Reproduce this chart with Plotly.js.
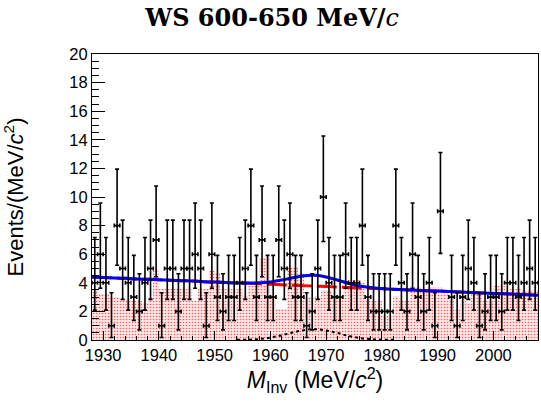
<!DOCTYPE html>
<html>
<head>
<meta charset="utf-8">
<script src="https://cdn.plot.ly/plotly-3.0.1.min.js"></script>
<style>html,body{margin:0;padding:0;background:#fff;}#plot{width:541px;height:409px;}</style>
</head>
<body>
<div id="plot"></div>
<script>
// Bin lower edges (1 MeV/c^2 bins) and observed counts
const binLow = [1928,1929,1930,1931,1932,1933,1934,1935,1936,1937,1938,1939,1940,1941,1942,1943,1944,1945,1946,1947,
  1948,1949,1950,1951,1952,1953,1954,1955,1956,1957,1958,1959,1960,1961,1962,1963,1964,1965,1966,1967,
  1968,1969,1970,1971,1972,1973,1974,1975,1976,1977,1978,1979,1980,1981,1982,1983,1984,1985,1986,1987,
  1988,1989,1990,1991,1992,1993,1994,1995,1996,1997,1998,1999,2000,2001,2002,2003,2004,2005,2006,2007];
const counts = [4,6,4,1,8,5,4,3,2,4,5,7,1,5,5,2,5,5,6,5,
  1,6,3,2,3,3,4,5,8,3,7,3,3,7,5,6,3,3,1,2,
  5,10,4,3,3,6,4,4,8,3,2,2,2,2,8,4,2,6,3,2,
  4,1,9,0,3,1,3,5,4,1,2,3,3,2,4,4,3,4,5,4];
// Poisson (Garwood 68%) error sizes, indexed by count
const poisErrLow  = [0, 0.827, 1.292, 1.633, 1.914, 2.160, 2.380, 2.581, 2.768, 2.943, 3.109];
const poisErrHigh = [1.841, 2.300, 2.638, 2.918, 3.163, 3.382, 3.584, 3.770, 3.950, 4.110, 4.270];
// Reference (pink dotted) histogram heights per bin
const refHist = [3.5,3.2,3.2,3.0,3.0,2.9,2.9,2.7,2.7,2.6,3.0,5.0,3.6,3.6,3.6,3.6,3.6,3.6,2.7,3.6,
  3.6,4.8,4.7,3.6,3.6,3.6,3.6,3.1,3.8,3.8,5.7,5.7,3.1,2.2,2.2,5.1,5.1,4.7,3.0,3.0,
  3.1,3.5,3.5,3.0,3.0,3.6,4.2,4.2,4.0,2.9,2.7,2.7,1.7,1.7,3.1,2.7,2.7,3.7,3.7,3.6,
  3.7,3.7,3.7,3.3,2.9,2.2,3.1,2.6,3.4,3.4,2.7,2.7,3.8,3.8,3.1,3.6,3.6,3.5,3.5,3.5];
// Fit curves
const fitX = [1928,1930,1932,1934,1936,1938,1940,1942,1944,1946,1948,1950,1952,1954,1956,1958,1960,1962,1964,1966,
  1968,1970,1972,1974,1976,1978,1980,1982,1984,1986,1988,1990,1992,1994,1996,1998,2000,2002,2004,2006,2008];
const bkgY = [4.40,4.37,4.34,4.31,4.27,4.24,4.21,4.18,4.15,4.12,4.08,4.05,4.02,3.99,3.96,3.93,3.89,3.86,3.83,3.80,
  3.77,3.74,3.71,3.67,3.64,3.61,3.58,3.55,3.52,3.48,3.45,3.42,3.39,3.36,3.32,3.29,3.26,3.23,3.20,3.17,3.13];
const totalY = [4.40,4.37,4.34,4.31,4.27,4.24,4.21,4.18,4.15,4.12,4.08,4.05,4.02,3.99,3.98,4.00,4.06,4.19,4.35,4.49,
  4.52,4.41,4.20,3.96,3.78,3.67,3.60,3.55,3.52,3.48,3.45,3.42,3.39,3.36,3.32,3.29,3.26,3.23,3.20,3.17,3.13];
const sigX = [1954,1956,1958,1960,1962,1964,1966,1968,1970,1972,1974,1976,1978,1980,1982];
const sigY = [0.01,0.02,0.07,0.17,0.33,0.52,0.69,0.75,0.67,0.49,0.29,0.14,0.06,0.02,0.01];
const xTickVals = [1930,1940,1950,1960,1970,1980,1990,2000];

const binCenter = binLow.map(b => b + 0.5);
const shown = counts.map(c => c > 0 ? c : null);

const traces = [
  {type:'bar', x: binCenter, y: refHist, width: 1,
   marker:{color:'rgba(255,255,255,0)', line:{width:0},
     pattern:{shape:'.', fgcolor:'#ff5a5a', bgcolor:'rgba(255,215,215,0.6)', size:3, solidity:0.22}},
   hoverinfo:'skip', showlegend:false},
  {type:'scatter', mode:'lines', x: sigX, y: sigY, line:{color:'#000', width:2, dash:'dot', shape:'spline'}, showlegend:false},
  {type:'scatter', mode:'lines', x: fitX, y: bkgY, line:{color:'#ff0000', width:3, dash:'20px,5px', shape:'spline'}, showlegend:false},
  {type:'scatter', mode:'lines', x: fitX, y: totalY, line:{color:'#0000ff', width:3, shape:'spline'}, showlegend:false},
  {type:'scatter', mode:'markers', x: binCenter, y: shown,
   marker:{color:'#000', size:2},
   error_x:{type:'constant', value:0.5, color:'#000', thickness:1.6, width:2},
   error_y:{type:'data', symmetric:false,
     array: counts.map(c => poisErrHigh[c]), arrayminus: counts.map(c => poisErrLow[c]),
     color:'#000', thickness:1.6, width:2},
   showlegend:false}
];

const layout = {
  width:541, height:409,
  margin:{l:92, r:3, t:54, b:69},
  paper_bgcolor:'#fff', plot_bgcolor:'#fff',
  bargap:0,
  showlegend:false,
  font:{family:'Liberation Sans, Arial, sans-serif', color:'#000'},
  title:{text:'<b>WS 600-650 MeV/</b><i>c</i>', x:0.503, xref:'container', xanchor:'center',
    y:0.958, yref:'container', yanchor:'middle',
    font:{family:'DejaVu Serif, Liberation Serif, serif', size:24, color:'#000'}},
  xaxis:{range:[1928,2008], tickvals:xTickVals, ticks:'inside', ticklen:9, tickwidth:1, tickcolor:'#000',
    showline:true, linecolor:'#000', linewidth:1, mirror:true, showgrid:false, zeroline:false,
    tickfont:{size:16.5}, automargin:false,
    minor:{dtick:2, ticks:'inside', ticklen:4.5, tickcolor:'#000', showgrid:false},
    title:{text:'<i>M</i><sub>Inv</sub> (MeV/<i>c</i><sup>2</sup>)', font:{size:23}, standoff:5}},
  yaxis:{range:[0,20], dtick:2, ticks:'inside', ticklen:13, tickwidth:1, tickcolor:'#000',
    showline:true, linecolor:'#000', linewidth:1, mirror:true, showgrid:false, zeroline:false,
    tickfont:{size:16.5}, automargin:false,
    minor:{dtick:0.5, ticks:'inside', ticklen:6.5, tickcolor:'#000', showgrid:false},
    title:{text:'Events/(MeV/<i>c</i><sup>2</sup>)', font:{size:22}, standoff:39}}
};

Plotly.newPlot('plot', traces, layout, {staticPlot:true, displayModeBar:false});
</script>
</body>
</html>
